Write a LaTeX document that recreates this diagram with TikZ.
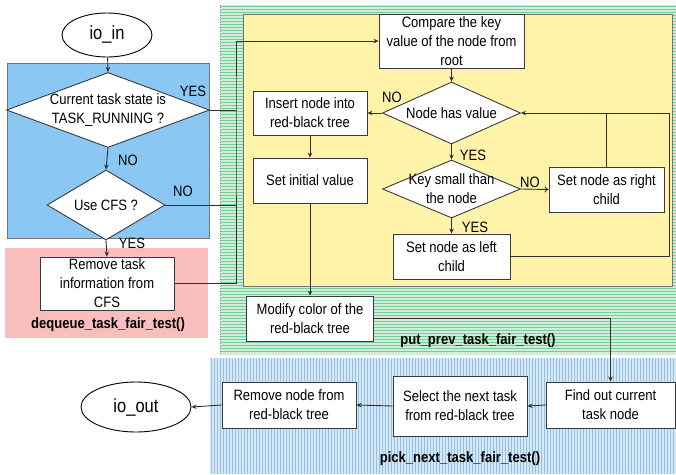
\documentclass[tikz,border=0pt]{standalone}
\usepackage{fontspec}
\setmainfont{Liberation Sans}[FakeStretch=0.87]
\usetikzlibrary{shapes.geometric,arrows.meta}

\definecolor{panelblue}{HTML}{8AC7F2}
\definecolor{pinkbg}{HTML}{F8BEBE}
\definecolor{greenbg}{HTML}{D0EFDA}
\definecolor{greenline}{HTML}{74CC96}
\definecolor{yellowbg}{HTML}{FFF3AA}
\definecolor{bluebg}{HTML}{D6E8F6}
\definecolor{blueline}{HTML}{92C0E6}
\definecolor{boxline}{HTML}{3A3A3A}
\definecolor{flowline}{HTML}{303030}

\begin{document}
\begin{tikzpicture}[x=1pt,y=-1pt,
  every node/.style={font=\fontsize{15}{19}\selectfont},
  box/.style={draw=boxline, line width=0.9pt, fill=white, align=center, inner sep=0pt},
  decision/.style={diamond, draw=boxline, line width=0.9pt, fill=white, inner sep=0pt},
  terminal/.style={ellipse, draw=black, line width=0.9pt, fill=white, inner sep=0pt,
                   font=\fontsize{19}{22}\selectfont},
  flow/.style={draw=flowline, line width=0.9pt},
  arrow/.style={flow, -{Stealth[length=5pt,width=4.5pt]}},
  openarrow/.style={flow, -{To[length=4pt,width=6pt]}},
  tag/.style={inner sep=0pt, align=center},
  title/.style={inner sep=0pt, font=\fontsize{15}{19}\selectfont\bfseries}]

\useasboundingbox (0,0) rectangle (676,474);

% ---- background panels ----
\fill[greenbg] (220,5) rectangle (676,355);
\foreach \y in {6.5,9.5,...,354} \draw[greenline, line width=1pt] (221,\y) -- (676,\y);
\draw[gray, dotted] (220,5) -- (220,355);

\fill[bluebg] (210,358) rectangle (676,474);
\foreach \x in {211.5,214.5,...,675} \draw[blueline, line width=1.2pt] (\x,358) -- (\x,474);

\fill[pinkbg] (5,248) rectangle (208,338);
\filldraw[fill=panelblue, draw=black!55, line width=0.8pt] (7,63) rectangle (209,238);
\filldraw[fill=yellowbg, draw=black!55, line width=1pt] (243,14) rectangle (672,286);

% ---- left column ----
\node[terminal, minimum width=90, minimum height=44] (ioin) at (107,35) {io\_in};

\node[decision, minimum width=203, minimum height=75] (d1) at (108,110) {};
\node[tag] (d1t) at (d1) {Current task state is\\TASK\_RUNNING ?};

\node[decision, minimum width=118, minimum height=70] (d2) at (106,205) {};
\node[tag] (d2t) at (d2) {Use CFS ?};

\node[box, minimum width=134, minimum height=53] (remtask) at (107,283.5)
  {Remove task\\information from\\CFS};
\node[title] (deq) at (108,325) {dequeue\_task\_fair\_test()};

% ---- yellow block ----
\node[box, minimum width=145, minimum height=54] (compare) at (451.5,41)
  {Compare the key\\value of the node from\\root};

\node[decision, minimum width=138, minimum height=62] (d3) at (451.5,113) {};
\node[tag] (d3t) at (d3) {Node has value};

\node[box, minimum width=114, minimum height=44] (insert) at (310,113)
  {Insert node into\\red-black tree};
\node[box, minimum width=114, minimum height=45] (setinit) at (310,180.5)
  {Set initial value};

\node[decision, minimum width=138, minimum height=58] (d4) at (451.5,189) {};
\node[tag] (d4t) at (d4) {Key small than\\the node};

\node[box, minimum width=115, minimum height=45] (setright) at (606.5,189.5)
  {Set node as right\\child};
\node[box, minimum width=117, minimum height=45] (setleft) at (451.5,256.5)
  {Set node as left\\child};

\node[box, minimum width=127, minimum height=45] (modify) at (310,318.5)
  {Modify color of the\\red-black tree};
\node[title] (put) at (478,341) {put\_prev\_task\_fair\_test()};

% ---- bottom row ----
\node[box, minimum width=129, minimum height=46] (findout) at (610.5,405)
  {Find out current\\task node};
\node[box, minimum width=134, minimum height=60] (select) at (460,406)
  {Select the next task\\from red-black tree};
\node[box, minimum width=134, minimum height=46] (remnode) at (289,405)
  {Remove node from\\red-black tree};
\node[terminal, minimum width=110, minimum height=50] (ioout) at (136,407) {io\_out};
\node[title] (pick) at (460,459) {pick\_next\_task\_fair\_test()};

% ---- branch labels ----
\node[tag] (y1) at (193,91) {YES};
\node[tag] (n1) at (128,160) {NO};
\node[tag] (n2) at (183,191) {NO};
\node[tag] (y2) at (132,243) {YES};
\node[tag] (n3) at (392,97) {NO};
\node[tag] (y3) at (473,155) {YES};
\node[tag] (n4) at (530,182) {NO};
\node[tag] (y4) at (475,227) {YES};

% ---- connectors ----
\draw[arrow] (ioin) -- (d1.north);
\draw[arrow] (d1.south) -- (d2.north);
\draw[arrow] (d2.south) -- (remtask.north);

\coordinate (b1) at (236,110);
\coordinate (b2) at (236,205);
\coordinate (b3) at (236,283.5);
\draw[flow] (d1.east) -- (b1);
\draw[flow] (d2.east) -- (b2);
\draw[arrow] (remtask.east) -- (b3) -- (b1) |- (compare.west);

\draw[arrow] (compare.south) -- (d3.north);
\draw[arrow] (d3.west) -- (insert.east);
\draw[arrow] (insert.south) -- (setinit.north);
\draw[arrow] (setinit.south) -- (modify.north);
\draw[arrow] (d3.south) -- (d4.north);
\draw[openarrow] (d4.east) -- (setright.west);
\draw[arrow] (d4.south) -- (setleft.north);

\coordinate (loop) at (669,256.5);
\draw[arrow] (setleft.east) -- (loop) |- (d3.east);
\draw[flow] (setright.north) -- (setright.north |- d3.east);

\draw[arrow] (modify.east) -| (findout.north);
\draw[arrow] (findout.west) -- (select.east);
\draw[arrow] (select.west) -- (remnode.east);
\draw[arrow] (remnode.west) -- (ioout.east);

\end{tikzpicture}
\end{document}
